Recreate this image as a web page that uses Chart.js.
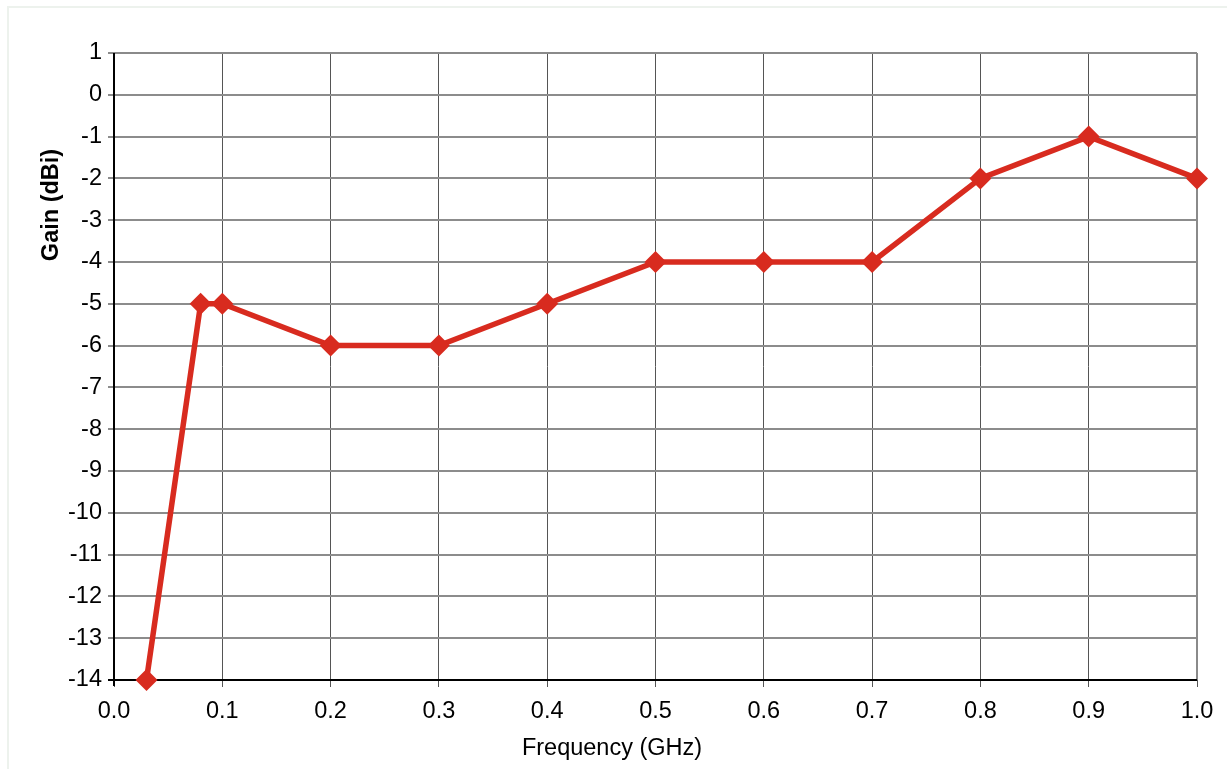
<!DOCTYPE html>
<html>
<head>
<meta charset="utf-8">
<script src="https://cdn.jsdelivr.net/npm/chart.js@4/dist/chart.umd.min.js"></script>
<style>
  html, body { margin: 0; padding: 0; background: #fff; overflow: hidden; }
  #frame { position: absolute; left: 7px; top: 6px; width: 1230px; height: 780px; border: 2px solid #edf2ed; box-sizing: border-box; }
  #wrap { position: absolute; left: 0; top: 0; width: 1227px; height: 769px; }
</style>
</head>
<body>
<div id="frame"></div>
<div id="wrap"><canvas id="c" width="1227" height="769"></canvas></div>
<script>
const frequencyGHz = [0.03, 0.08, 0.1, 0.2, 0.3, 0.4, 0.5, 0.6, 0.7, 0.8, 0.9, 1.0];
const gainDBi = [-14, -5, -5, -6, -6, -5, -4, -4, -4, -2, -1, -2];
const xTitle = 'Frequency (GHz)';
const yTitle = 'Gain (dBi)';
const xMin = 0, xMax = 1, xStep = 0.1;
const yMin = -14, yMax = 1, yStep = 1;

const FONT = "'Liberation Sans', Arial, sans-serif";
const FS = 23.5;

const titlesPlugin = {
  id: 'titlesPlugin',
  afterDraw(chart) {
    const ctx = chart.ctx;
    ctx.save();
    ctx.fillStyle = '#000';
    ctx.textAlign = 'center';
    ctx.textBaseline = 'middle';
    ctx.font = FS + "px " + FONT;
    ctx.fillText(xTitle, 612, 749);
    ctx.translate(52, 205);
    ctx.rotate(-Math.PI / 2);
    ctx.font = "bold " + FS + "px " + FONT;
    ctx.fillText(yTitle, 0, 0);
    ctx.restore();
  }
};

const frameLines = {
  id: 'frameLines',
  beforeDatasetsDraw(chart) {
    const { ctx, chartArea: a } = chart;
    ctx.save();
    ctx.lineWidth = 2;
    ctx.strokeStyle = '#8a8a8a';
    ctx.beginPath();
    ctx.moveTo(a.left, a.top); ctx.lineTo(a.right, a.top);
    ctx.moveTo(a.right, a.top); ctx.lineTo(a.right, a.bottom);
    ctx.stroke();
    ctx.strokeStyle = '#000';
    ctx.beginPath();
    ctx.moveTo(a.left, a.top); ctx.lineTo(a.left, a.bottom + 6);
    ctx.moveTo(a.left - 6, a.bottom); ctx.lineTo(a.right, a.bottom);
    ctx.stroke();
    ctx.restore();
  }
};

new Chart(document.getElementById('c'), {
  type: 'line',
  data: {
    datasets: [{
      data: frequencyGHz.map((x, i) => ({ x, y: gainDBi[i] })),
      borderColor: '#d82b1f',
      backgroundColor: '#d82b1f',
      borderWidth: 5.5,
      pointStyle: 'rectRot',
      pointRadius: 11,
      pointBorderWidth: 0,
      pointBackgroundColor: '#d82b1f',
      tension: 0,
      clip: false
    }]
  },
  plugins: [frameLines, titlesPlugin],
  options: {
    responsive: false,
    animation: false,
    devicePixelRatio: 1,
    layout: { padding: { left: 0, top: 53, right: 30, bottom: 0 } },
    plugins: { legend: { display: false }, tooltip: { enabled: false } },
    scales: {
      x: {
        type: 'linear',
        min: xMin, max: xMax,
        afterFit(s) { s.height = 89; },
        border: { display: false },
        grid: { color: '#555', lineWidth: 1, tickLength: 7, drawTicks: true },
        ticks: {
          stepSize: xStep,
          color: '#000',
          font: { family: FONT, size: FS },
          padding: 10,
          callback: v => Number(v).toFixed(1)
        }
      },
      y: {
        type: 'linear',
        min: yMin, max: yMax,
        afterFit(s) { s.width = 114; },
        border: { display: false },
        grid: { color: '#8c8c8c', lineWidth: 2, tickLength: 6 },
        ticks: {
          stepSize: yStep,
          color: '#000',
          font: { family: FONT, size: FS },
          padding: 6
        }
      }
    }
  }
});
</script>
</body>
</html>
